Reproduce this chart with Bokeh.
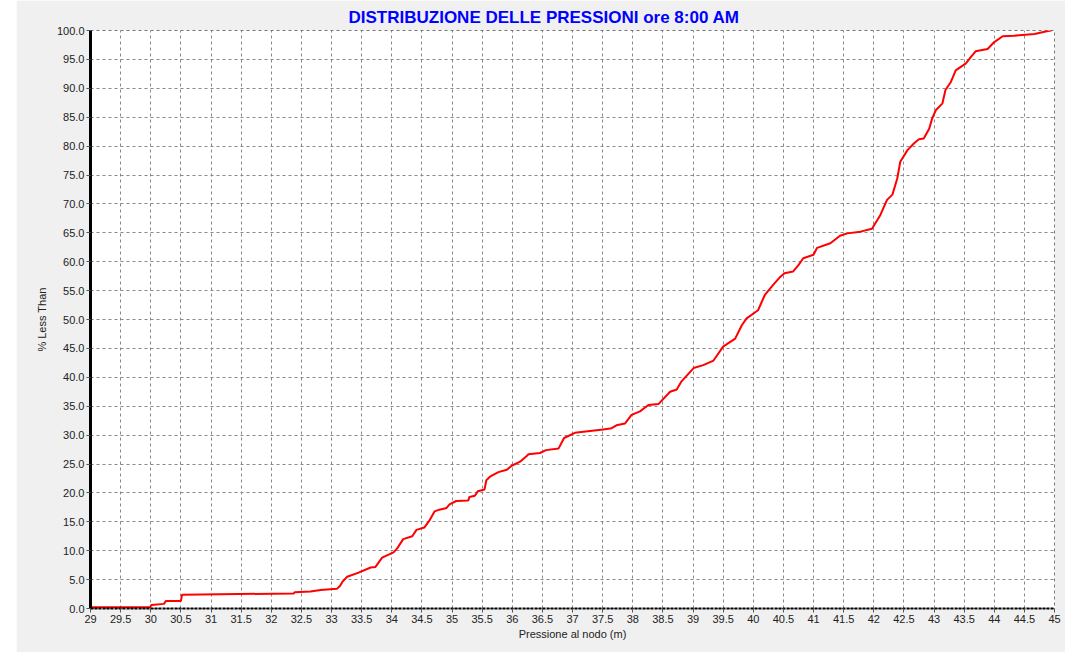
from bokeh.plotting import figure
from bokeh.models import Range1d, FixedTicker, Spacer
from bokeh.layouts import row
from bokeh.embed import file_html
from bokeh.resources import INLINE

title_text = "DISTRIBUZIONE DELLE PRESSIONI ore 8:00 AM"
x_label = "Pressione al nodo (m)"
y_label = "% Less Than"

pressure = [29.0, 29.99, 30.01, 30.22, 30.25, 30.5, 30.52, 31.46, 32.37, 32.39,
            32.65, 32.82, 33.09, 33.14, 33.18, 33.26, 33.45, 33.65, 33.73, 33.84,
            34.03, 34.09, 34.19, 34.34, 34.41, 34.54, 34.63, 34.71, 34.79, 34.91,
            34.96, 35.07, 35.27, 35.29, 35.38, 35.43, 35.54, 35.57, 35.63, 35.77,
            35.91, 35.99, 36.13, 36.24, 36.27, 36.46, 36.56, 36.77, 36.86, 37.04,
            37.29, 37.51, 37.65, 37.73, 37.87, 37.98, 38.12, 38.26, 38.43, 38.62,
            38.73, 38.81, 39.01, 39.17, 39.34, 39.50, 39.70, 39.81, 39.89, 40.08,
            40.19, 40.33, 40.44, 40.52, 40.66, 40.75, 40.83, 41.0, 41.06, 41.28,
            41.44, 41.56, 41.78, 41.97, 42.06, 42.11, 42.22, 42.31, 42.39, 42.44,
            42.56, 42.67, 42.75, 42.83, 42.92, 42.97, 43.03, 43.14, 43.19, 43.28,
            43.36, 43.53, 43.61, 43.69, 43.89, 44.0, 44.14, 44.33, 44.67, 44.89,
            44.95]
percent_less = [0.2, 0.2, 0.6, 0.8, 1.3, 1.3, 2.4, 2.5, 2.6, 2.8,
                2.95, 3.2, 3.4, 3.9, 4.6, 5.5, 6.2, 7.1, 7.2, 8.8,
                9.7, 10.4, 12.0, 12.5, 13.6, 14.0, 15.3, 16.8, 17.1, 17.4,
                18.0, 18.6, 18.7, 19.3, 19.5, 20.3, 20.6, 22.2, 22.8, 23.6,
                24.0, 24.7, 25.4, 26.4, 26.7, 26.9, 27.4, 27.7, 29.5, 30.4,
                30.7, 30.95, 31.2, 31.7, 32.0, 33.5, 34.1, 35.2, 35.4, 37.5,
                37.9, 39.3, 41.6, 42.1, 42.9, 45.3, 46.7, 49.0, 50.2, 51.6,
                54.2, 56.0, 57.3, 58.0, 58.3, 59.4, 60.6, 61.2, 62.4, 63.2,
                64.5, 64.9, 65.2, 65.7, 67.2, 68.1, 70.7, 71.6, 74.4, 77.3,
                79.3, 80.5, 81.2, 81.3, 83.0, 84.8, 86.2, 87.4, 89.7, 91.1,
                93.1, 94.3, 95.4, 96.4, 96.8, 98.0, 99.0, 99.1, 99.4, 99.9,
                100.0]

x_ticks = [29, 29.5, 30, 30.5, 31, 31.5, 32, 32.5, 33, 33.5, 34, 34.5, 35, 35.5,
           36, 36.5, 37, 37.5, 38, 38.5, 39, 39.5, 40, 40.5, 41, 41.5, 42, 42.5,
           43, 43.5, 44, 44.5, 45]
x_tick_labels = ["29", "29.5", "30", "30.5", "31", "31.5", "32", "32.5", "33", "33.5",
                 "34", "34.5", "35", "35.5", "36", "36.5", "37", "37.5", "38", "38.5",
                 "39", "39.5", "40", "40.5", "41", "41.5", "42", "42.5", "43", "43.5",
                 "44", "44.5", "45"]
y_ticks = [0, 5, 10, 15, 20, 25, 30, 35, 40, 45, 50, 55, 60, 65, 70, 75, 80, 85, 90, 95, 100]
y_tick_labels = ["0.0", "5.0", "10.0", "15.0", "20.0", "25.0", "30.0", "35.0", "40.0",
                 "45.0", "50.0", "55.0", "60.0", "65.0", "70.0", "75.0", "80.0", "85.0",
                 "90.0", "95.0", "100.0"]

FONT = "Liberation Sans"

p = figure(width=1049, height=652, output_backend="svg", toolbar_location=None,
           x_range=Range1d(29, 45), y_range=Range1d(0, 100),
           min_border_left=74, min_border_right=11, min_border_top=30, min_border_bottom=44)

p.background_fill_color = "white"
p.border_fill_color = "#F0F0F0"
p.outline_line_color = "#777777"
p.outline_line_dash = "3 3"
p.outline_line_width = 1

p.title.text = title_text
p.title.align = "left"
p.title.offset = 258
p.title.text_font = FONT
p.title.text_font_size = "17px"
p.title.text_font_style = "bold"
p.title.text_color = "#0000FF"
p.title.standoff = 7

p.xaxis.ticker = FixedTicker(ticks=x_ticks, minor_ticks=[])
p.yaxis.ticker = FixedTicker(ticks=y_ticks, minor_ticks=[])
p.xaxis.major_label_overrides = {t: l for t, l in zip(x_ticks, x_tick_labels)}
p.yaxis.major_label_overrides = {t: l for t, l in zip(y_ticks, y_tick_labels)}

for ax in (p.xaxis, p.yaxis):
    ax.major_label_text_font = FONT
    ax.major_label_text_font_size = "11px"
    ax.major_label_text_color = "#222222"
    ax.axis_label_text_font = FONT
    ax.axis_label_text_font_size = "11px"
    ax.axis_label_text_font_style = "normal"
    ax.axis_label_text_color = "#222222"
    ax.major_tick_in = 0
    ax.major_tick_out = 4
    ax.major_tick_line_color = "#555555"
    ax.minor_tick_line_color = None
    ax.major_label_standoff = 2

p.xaxis.axis_label = x_label
p.yaxis.axis_label = y_label
p.xaxis.axis_label_standoff = 2
p.yaxis.axis_label_standoff = 6

p.yaxis.axis_line_color = "black"
p.yaxis.axis_line_width = 3
p.xaxis.axis_line_color = "black"
p.xaxis.axis_line_width = 2
p.xaxis.axis_line_dash = "3 1"

p.grid.grid_line_color = "#888888"
p.grid.grid_line_dash = "3 3"
p.grid.grid_line_width = 1

p.line(pressure, percent_less, line_color="#FF0000", line_width=2)

layout = row(Spacer(width=16, height=652), p)

open("out.html", "w").write(file_html(layout, INLINE))
